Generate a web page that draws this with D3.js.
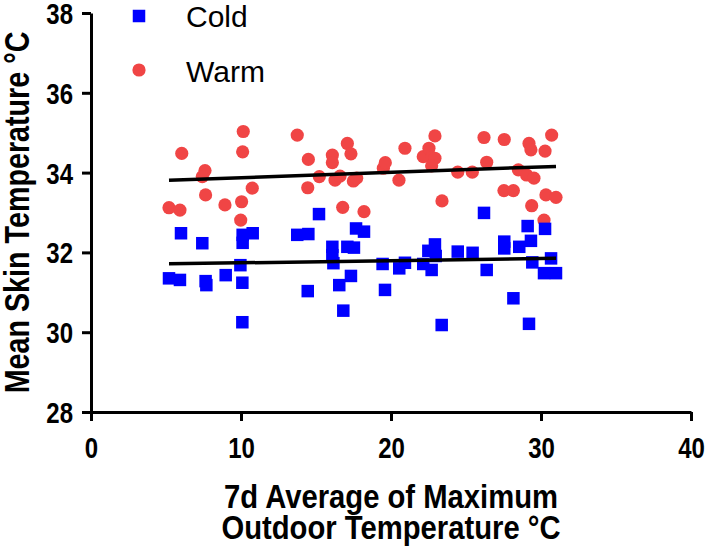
<!DOCTYPE html>
<html>
<head>
<meta charset="utf-8">
<script src="https://cdn.jsdelivr.net/npm/d3@7"></script>
<style>
  html, body { margin: 0; padding: 0; background: #fff; }
  svg { display: block; font-family: "Liberation Sans", Arial, Helvetica, sans-serif; }
  .cond { font-family: "Liberation Sans", Arial, sans-serif; font-weight: bold; }
</style>
</head>
<body>
<svg id="chart" width="708" height="551"></svg>
<script>
// ---- Data ----
const seriesNames = ["Cold", "Warm"];
const seriesColors = ["#0000ff", "#f04545"];

const warmX = [6.05, 5.2, 5.93, 7.6, 7.42, 7.64, 8.93, 10.04, 9.98, 10.15, 10.11, 10.75,
  13.75, 14.49, 15.22, 14.45, 16.09, 16.09, 16.27, 16.6, 17.09, 17.33, 17.49, 17.71, 16.78, 18.2,
  19.49, 19.62, 20.53, 20.93, 22.15, 22.53, 22.93, 22.71, 22.93, 22.71, 23.4, 24.45, 25.42,
  26.2, 27.55, 26.38, 29.2, 29.33, 30.27, 30.71, 28.49, 29.04, 29.53, 27.53, 28.16, 30.33, 31.0, 29.38, 30.2];
const warmY = [34.48, 33.12, 33.06, 34.05, 33.90, 33.44, 33.19, 33.27, 32.81, 35.03, 34.52, 33.61,
  34.94, 34.33, 33.90, 33.62, 34.44, 34.25, 33.81, 33.91, 34.73, 34.47, 33.79, 33.86, 33.13, 33.02,
  34.11, 34.25, 33.81, 34.61, 34.40, 34.61, 34.92, 34.38, 34.36, 34.17, 33.29, 34.01, 34.01,
  34.88, 34.83, 34.26, 34.73, 34.57, 34.54, 34.94, 34.07, 33.94, 33.86, 33.55, 33.55, 33.44, 33.38, 33.17, 32.81];

const coldX = [6.0, 7.42, 5.2, 5.93, 7.64, 7.69, 8.98, 10.09, 9.96, 10.09, 10.11, 10.11, 10.78,
  15.2, 13.75, 14.49, 16.09, 16.09, 16.16, 17.09, 17.53, 17.67, 18.2, 17.33, 16.55, 14.45, 16.82,
  19.44, 19.6, 20.55, 20.93, 22.15, 22.71, 22.49, 22.93, 22.98, 24.45, 25.44, 23.38,
  26.2, 27.55, 27.55, 28.55, 29.11, 29.33, 30.27, 29.42, 30.67, 26.38, 30.2, 31.0, 28.16, 29.2];
const coldY = [32.48, 32.23, 31.35, 31.31, 31.28, 31.18, 31.43, 31.24, 31.68, 30.25, 32.44, 32.24, 32.48,
  32.96, 32.44, 32.46, 32.14, 31.93, 31.73, 32.14, 32.12, 32.60, 32.52, 31.41, 31.18, 31.03, 30.54,
  31.71, 31.06, 31.60, 31.74, 31.71, 31.56, 32.04, 32.20, 31.91, 32.02, 31.99, 30.18,
  32.99, 32.27, 32.10, 32.14, 32.66, 32.29, 32.59, 31.75, 31.85, 31.56, 31.48, 31.48, 30.85, 30.21];

const xTicks = [0, 10, 20, 30, 40];
const yTicks = [28, 30, 32, 34, 36, 38];
const xTitleLines = ["7d Average of Maximum", "Outdoor Temperature °C"];
const yTitle = "Mean Skin Temperature °C";

// ---- Layout ----
const svg = d3.select("#chart");
const mLeft = 91, mRight = 691, mTop = 13, mBottom = 412;
const squeeze = 0.8;   // horizontal condensing of the bold tick font
const squeezeX = 0.86; // x-axis title
const squeezeY = 0.82; // y-axis title

const x = d3.scaleLinear().domain([0, 40]).range([mLeft, mRight]);
const y = d3.scaleLinear().domain([28, 38]).range([mBottom, mTop]);

// ---- Axes ----
const xAxis = svg.append("g")
  .attr("transform", `translate(0,${mBottom})`)
  .call(d3.axisBottom(x).tickValues(xTicks).tickSize(9).tickPadding(16).tickSizeOuter(0));
const yAxis = svg.append("g")
  .attr("transform", `translate(${mLeft},0)`)
  .call(d3.axisLeft(y).tickValues(yTicks).tickSize(9).tickPadding(9).tickSizeOuter(0));

[xAxis, yAxis].forEach(g => {
  g.attr("font-family", null).attr("font-size", null);
  g.select(".domain").attr("stroke", "#000").attr("stroke-width", 3);
  g.selectAll(".tick line").attr("stroke", "#000").attr("stroke-width", 3);
  g.selectAll(".tick text")
    .attr("fill", "#000")
    .attr("class", "cond")
    .style("font-size", "30px");
});
xAxis.selectAll(".tick text").attr("dy", "0.71em")
  .attr("transform", `scale(${squeeze},1)`);
yAxis.selectAll(".tick text").attr("dy", "0.35em")
  .attr("x", -18 / squeeze)
  .attr("transform", `scale(${squeeze},1)`);

// ---- Points ----
const warm = warmX.map((v, i) => ({ x: v, y: warmY[i] }));
const cold = coldX.map((v, i) => ({ x: v, y: coldY[i] }));

svg.append("g").selectAll("circle").data(warm).join("circle")
  .attr("cx", d => x(d.x)).attr("cy", d => y(d.y)).attr("r", 6.6)
  .attr("fill", seriesColors[1]);

const sq = 12.5;
svg.append("g").selectAll("rect").data(cold).join("rect")
  .attr("x", d => x(d.x) - sq / 2).attr("y", d => y(d.y) - sq / 2)
  .attr("width", sq).attr("height", sq)
  .attr("fill", seriesColors[0]);

// ---- Linear regression lines ----
function fit(data) {
  const mx = d3.mean(data, d => d.x), my = d3.mean(data, d => d.y);
  const sxy = d3.sum(data, d => (d.x - mx) * (d.y - my));
  const sxx = d3.sum(data, d => (d.x - mx) ** 2);
  const b = sxy / sxx, a = my - b * mx;
  const [x0, x1] = d3.extent(data, d => d.x);
  return [{ x: x0, y: a + b * x0 }, { x: x1, y: a + b * x1 }];
}
const line = d3.line().x(d => x(d.x)).y(d => y(d.y));
[warm, cold].forEach(data => {
  svg.append("path").attr("d", line(fit(data)))
    .attr("stroke", "#000").attr("stroke-width", 3.5).attr("fill", "none");
});

// ---- Legend ----
const legend = svg.append("g");
legend.append("rect").attr("x", 139 - sq / 2).attr("y", 16 - sq / 2)
  .attr("width", sq).attr("height", sq).attr("fill", seriesColors[0]);
legend.append("circle").attr("cx", 139).attr("cy", 70).attr("r", 6.6).attr("fill", seriesColors[1]);
legend.selectAll("text").data(seriesNames).join("text")
  .attr("x", 186).attr("y", (d, i) => i === 0 ? 26.5 : 81.5)
  .style("font-size", "30px")
  .attr("fill", "#000")
  .text(d => d);

// ---- Axis titles ----
svg.append("text")
  .attr("class", "cond")
  .attr("transform", `translate(29,${(mTop + mBottom) / 2}) rotate(-90) scale(${squeezeY},1)`)
  .attr("text-anchor", "middle")
  .style("font-size", "35px")
  .text(yTitle);

svg.append("g")
  .attr("transform", `translate(${(mLeft + mRight) / 2},508) scale(${squeezeX},1)`)
  .append("text")
  .attr("class", "cond")
  .attr("text-anchor", "middle")
  .style("font-size", "34px")
  .selectAll("tspan").data(xTitleLines).join("tspan")
  .attr("x", 0).attr("dy", (d, i) => i === 0 ? 0 : 31)
  .text(d => d);
</script>
</body>
</html>
